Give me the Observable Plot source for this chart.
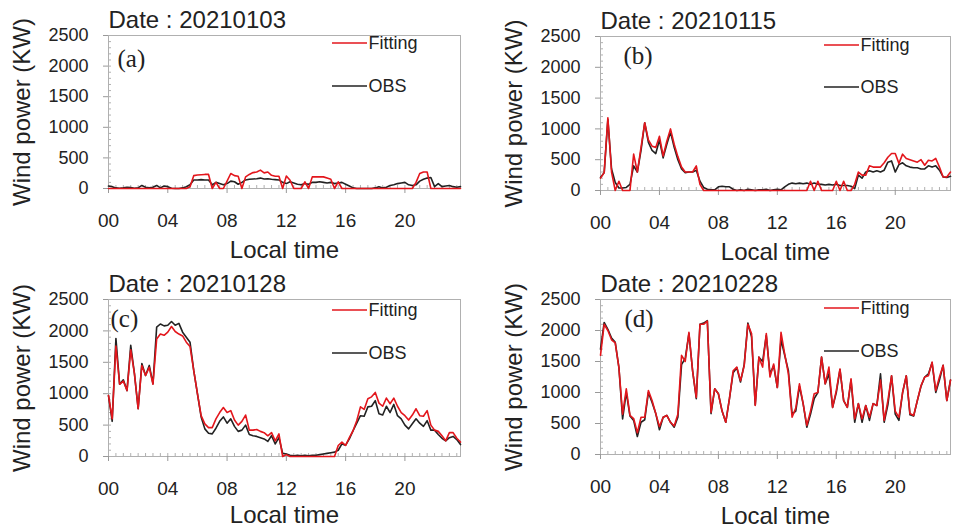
<!DOCTYPE html>
<html>
<head>
<meta charset="utf-8">
<script src="https://cdn.jsdelivr.net/npm/d3@7"></script>
<script src="https://cdn.jsdelivr.net/npm/@observablehq/plot@0.6"></script>
<style>
  html, body { margin: 0; padding: 0; background: #fff; }
  #root { position: relative; width: 953px; height: 530px; overflow: hidden; background: #fff; }
  #root svg { position: absolute; overflow: visible; }
</style>
</head>
<body>
<div id="root"></div>
<script>
// ---- data (15-minute samples, 96 per day) ----
const dates = ["20210103", "20210115", "20210128", "20210228"];
const panelLabels = ["(a)", "(b)", "(c)", "(d)"];
const seriesNames = ["Fitting", "OBS"];
const xTicks = [0, 4, 8, 12, 16, 20];
const xTickLabels = ["00", "04", "08", "12", "16", "20"];
const yTicks = [0, 500, 1000, 1500, 2000, 2500];

const obsA = [40,30,10,5, 10,20,15,5, 10,50,20,10, 20,50,10,40, 30,5,0,0, 10,30,60,140,
  140,145,140,140, 60,100,80,60, 80,120,110,70, 100,140,150,155, 160,170,155,160, 150,145,140,100,
  80,110,90,70, 60,80,70,100, 100,110,100,90, 100,80,90,100, 70,40,10,0, 0,0,0,0,
  10,30,10,20, 50,60,80,90, 100,60,50,60, 120,150,170,180, 30,80,30,40, 50,30,20,30];
const fitA = [0,0,0,0, 0,0,0,0, 0,0,0,0, 0,0,0,0, 0,0,0,0, 0,0,30,210,
  220,225,230,230, 0,100,0,0, 120,245,210,200, 0,190,230,260, 270,300,255,270, 215,200,200,0,
  205,135,0,0, 0,110,0,190, 190,190,190,170, 150,0,110,0, 0,0,0,0, 0,0,0,0,
  0,0,0,0, 0,0,0,0, 0,0,0,100, 245,270,270,0, 0,0,0,0, 0,0,0,0];

const obsB = [210,290,1150,350, 130,40,40,50, 100,400,300,650, 1100,780,650,600, 820,530,750,950, 700,500,350,290,
  300,300,330,150, 50,20,10,10, 60,70,60,60, 20,0,10,0, 20,10,0,10, 10,20,0,10,
  20,10,60,100, 120,110,120,110, 120,100,120,100, 100,90,100,90, 100,80,80,80, 70,30,250,200,
  300,320,300,320, 300,330,460,480, 300,420,450,400, 380,370,370,350, 350,400,380,400, 330,220,210,230];
const fitB = [200,290,1180,300, 0,150,0,0, 0,590,300,700, 1100,820,720,700, 880,560,800,1000, 750,550,380,300,
  300,300,400,100, 0,0,0,0, 0,0,0,0, 0,0,0,0, 0,0,0,0, 0,0,0,0,
  0,0,0,0, 0,0,0,0, 0,150,0,150, 0,0,0,0, 150,0,150,0, 0,100,300,250,
  250,400,380,380, 380,450,540,600, 600,440,590,520, 500,480,460,500, 410,490,480,520, 380,220,220,300];

const obsC = [970,560,1880,1150, 1220,1050,1770,1320, 760,1480,1290,1450, 1160,2060,2110,2080, 2090,2150,2090,2120, 1980,1900,1820,1370,
  1000,630,440,370, 360,450,560,630, 530,600,480,400, 420,500,350,330, 320,300,280,240, 330,200,300,50,
  40,20,10,20, 10,20,10,20, 20,30,40,50, 60,70,100,200, 180,280,410,530, 650,640,790,800,
  890,680,660,800, 700,830,650,600, 500,440,520,600, 530,480,570,420, 420,350,290,250, 300,320,270,190];
const fitC = [970,600,1760,1150, 1200,1050,1700,1320, 760,1450,1290,1420, 1150,1870,1950,1930, 1980,2070,1990,1950, 1920,1820,1750,1370,
  1000,650,520,460, 460,600,700,780, 700,730,580,500, 560,660,420,420, 430,400,380,330, 380,250,360,0,
  30,0,0,0, 0,0,0,0, 0,0,0,0, 0,0,175,230, 175,300,410,570, 790,750,920,950,
  1020,850,800,930, 840,930,800,700, 650,580,660,760, 650,640,730,500, 420,400,330,250, 380,380,290,230];

const obsD = [1700,2130,2020,1880, 1810,1400,575,1000, 620,550,290,520, 560,1000,840,660, 400,600,630,520, 440,600,1450,1550,
  1950,1350,900,2100, 2120,2160,660,1060, 980,700,520,900, 1320,1400,1170,1450, 2120,1900,800,1570, 1500,1920,1300,1430,
  1080,1850,1600,1350, 650,700,1100,820, 440,650,900,1000, 1570,1140,1300,760, 1000,1370,870,760, 1200,520,820,520,
  790,550,820,790, 1300,520,800,1270, 650,550,1000,1270, 640,620,870,1100, 1250,1300,1480,1000, 1200,1440,870,1200];
const fitD = [1600,2100,2000,1850, 1800,1400,650,1060, 630,580,350,600, 600,1030,870,660, 450,600,630,520, 460,650,1600,1500,
  1970,1350,920,2100, 2100,2150,680,1060, 980,700,520,900, 1350,1410,1190,1430, 2100,1950,790,1570, 1410,1950,1250,1460,
  1080,1970,1620,1300, 600,750,1140,820, 470,700,980,1000, 1570,1140,1410,760, 1030,1380,870,760, 1220,575,820,575,
  790,600,820,790, 1200,550,870,1270, 700,600,1000,1270, 660,630,870,1110, 1250,1270,1490,1030, 1250,1440,870,1200];

const obsSeries = [obsA, obsB, obsC, obsD];
const fitSeries = [fitA, fitB, fitC, fitD];

// ---- layout / style ----
const stepHours = 0.25;
const hours = obsA.map((_, i) => i * stepHours);
const colors = {Fitting: "#e3161c", OBS: "#222222"};
const font = "'Liberation Sans', Arial, Helvetica, sans-serif";
const layout = [
  {left: 0,   top: 0,   width: 476, height: 265, ml: 108, mr: 16, mt: 35, mb: 77, lab: [9, 23],  leg: [8, 51],  xl: 62},
  {left: 476, top: 0,   width: 477, height: 265, ml: 124, mr: 3,  mt: 36, mb: 75, lab: [23, 19], leg: [9, 51],  xl: 62},
  {left: 0,   top: 265, width: 476, height: 265, ml: 108, mr: 16, mt: 34, mb: 74, lab: [2, 19],  leg: [11, 54], xl: 59},
  {left: 476, top: 265, width: 477, height: 265, ml: 124, mr: 3,  mt: 34, mb: 76, lab: [24, 19], leg: [9, 52],  xl: 62}
];

const root = document.getElementById("root");

layout.forEach((L, p) => {
  const obs = obsSeries[p], fit = fitSeries[p];
  const svg = Plot.plot({
    width: L.width,
    height: L.height,
    marginLeft: L.ml, marginRight: L.mr, marginTop: L.mt, marginBottom: L.mb,
    x: {domain: [0, hours[hours.length - 1]]},
    y: {domain: [0, 2500]},
    style: {fontFamily: font, color: "#222", background: "transparent", overflow: "visible"},
    marks: [
      Plot.frame({stroke: "#b0b0b0", strokeWidth: 1}),
      Plot.axisY({ticks: d3.range(0, 2501, 100), tickSize: -3, tickFormat: () => "", stroke: "#b0b0b0", label: null}),
      Plot.axisX({ticks: d3.range(0, 24, 0.5), tickSize: -3, tickFormat: () => "", stroke: "#b0b0b0", label: null}),
      Plot.axisY({ticks: yTicks, tickSize: 5, tickPadding: 15, tickFormat: d => String(d), fontSize: 18, stroke: "#999", fill: "#222", label: null}),
      Plot.axisX({ticks: xTicks, tickFormat: d => xTickLabels[xTicks.indexOf(d)], tickSize: 5, tickPadding: 20, fontSize: 19, stroke: "#999", fill: "#222", label: null}),
      Plot.line(obs, {x: (d, i) => hours[i], y: d => d, stroke: colors.OBS, strokeWidth: 1.6}),
      Plot.line(fit, {x: (d, i) => hours[i], y: d => d, stroke: colors.Fitting, strokeWidth: 1.6}),
      Plot.text(["Date : " + dates[p]], {frameAnchor: "top-left", textAnchor: "start", lineAnchor: "bottom", dy: -8, fontSize: 24, fill: "#222"}),
      Plot.text(["Wind power (KW)"], {frameAnchor: "left", textAnchor: "middle", rotate: -90, dx: -86, lineAnchor: "middle", fontSize: 24, fill: "#222"}),
      Plot.text(["Local time"], {frameAnchor: "bottom", textAnchor: "middle", dy: L.xl, lineAnchor: "middle", fontSize: 24, fill: "#222"}),
      Plot.text([panelLabels[p]], {frameAnchor: "top-left", dx: L.lab[0], dy: L.lab[1], textAnchor: "start", lineAnchor: "middle", fontSize: 25, fontFamily: "'Liberation Serif', 'Times New Roman', serif", fill: "#222"}),
      Plot.text([seriesNames[0]], {frameAnchor: "top-left", dx: 260, dy: L.leg[0], textAnchor: "start", lineAnchor: "middle", fontSize: 18, fill: "#222"}),
      Plot.text([seriesNames[1]], {frameAnchor: "top-left", dx: 260, dy: L.leg[1], textAnchor: "start", lineAnchor: "middle", fontSize: 18, fill: "#222"})
    ]
  });
  svg.style.left = L.left + "px";
  svg.style.top = L.top + "px";
  // legend swatch lines
  const s = d3.select(svg);
  seriesNames.forEach((name, k) => {
    s.append("line")
      .attr("x1", L.ml + 224).attr("x2", L.ml + 259)
      .attr("y1", L.mt + L.leg[k]).attr("y2", L.mt + L.leg[k])
      .attr("stroke", colors[name]).attr("stroke-width", 1.6);
  });
  root.appendChild(svg);
});
</script>
</body>
</html>
